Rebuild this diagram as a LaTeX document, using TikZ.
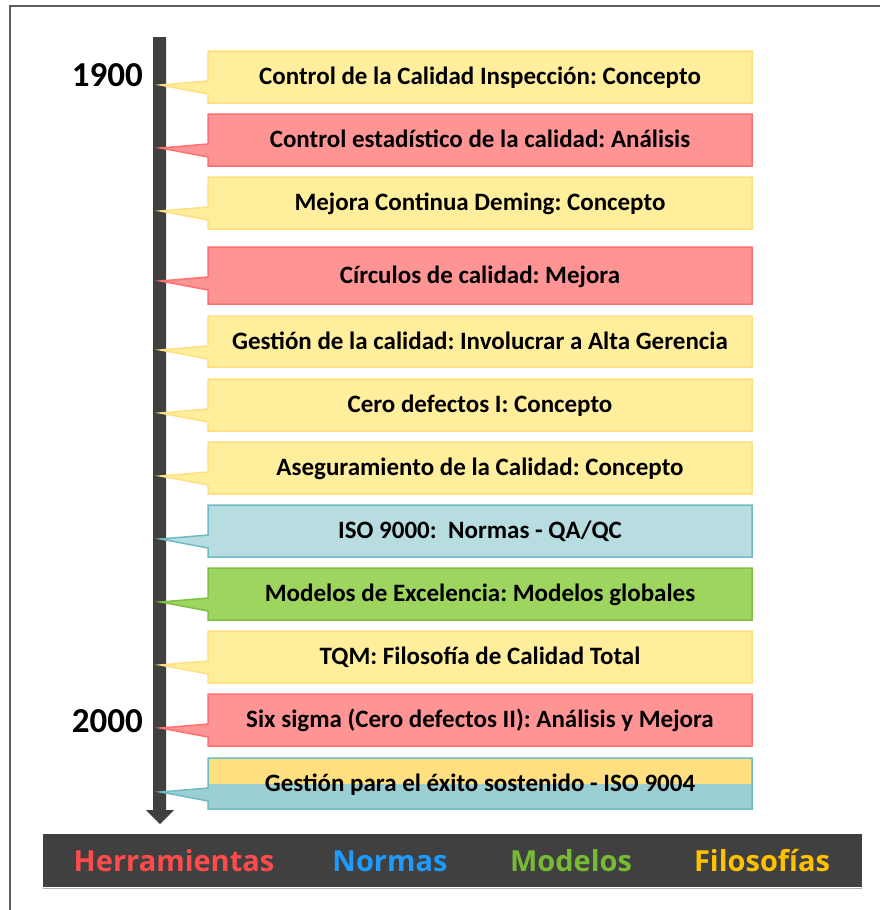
\documentclass[tikz,border=0pt]{standalone}
\usepackage{fontspec}
\setmainfont{Carlito}
\newfontfamily\legendfont{Open Sans}
\frenchspacing
\definecolor{barcol}{HTML}{404040}
\definecolor{yelfill}{HTML}{FFEE9C}
\definecolor{yeldraw}{HTML}{FFDF80}
\definecolor{redfill}{HTML}{FF9494}
\definecolor{reddraw}{HTML}{FF7070}
\definecolor{bluefill}{HTML}{B7DDE1}
\definecolor{bluedraw}{HTML}{6FBAC4}
\definecolor{grnfill}{HTML}{9ED55F}
\definecolor{grndraw}{HTML}{7DC043}
\definecolor{mixtop}{HTML}{FFDF80}
\definecolor{mixbot}{HTML}{9CCFD4}
\definecolor{legred}{HTML}{FF4B4B}
\definecolor{legblue}{HTML}{1E9BFF}
\definecolor{leggreen}{HTML}{77BB33}
\definecolor{legyellow}{HTML}{FFC000}

% one callout box on the time line: name, top, bottom, style, text
\newcommand{\tlbox}[5]{%
  \path[#4] (208,#2) -- (752,#2) -- (752,#3) -- (208,#3) -- (208,#2+43)
    -- (160.5,#2+34) -- (208,#2+30) -- cycle;
  \node[boxtext] (#1) at (480,{(#2+#3)/2+7.5}) {#5};
}

\begin{document}
\begin{tikzpicture}[x=1pt,y=-1pt,
  boxtext/.style={anchor=base,inner sep=0pt,font=\fontsize{25}{29}\selectfont\bfseries},
  philo/.style={fill=yelfill,draw=yeldraw,line width=1.5pt},
  tool/.style={fill=redfill,draw=reddraw,line width=1.5pt},
  norm/.style={fill=bluefill,draw=bluedraw,line width=1.5pt},
  model/.style={fill=grnfill,draw=grndraw,line width=1.5pt},
  year/.style={anchor=base east,inner sep=0pt,font=\fontsize{35}{40}\selectfont\bfseries},
  legend/.style={anchor=base,inner sep=0pt,font=\legendfont\fontsize{29}{34}\selectfont\bfseries}]
\useasboundingbox (0,0) rectangle (880,910);

% outer frame
\draw[barcol!85,line width=1.5pt] (10,915) -- (10,6) -- (885,6);

% time axis with arrow head
\fill[barcol] (153,37) -- (166,37) -- (166,810) -- (174,810) -- (160,824)
  -- (146,810) -- (153,810) -- cycle;

\node[year] (y1900) at (143,86) {1900};
\node[year] (y2000) at (143,732) {2000};

\tlbox{b1}{51}{103}{philo}{Control de la Calidad Inspección: Concepto}
\tlbox{b2}{114}{166}{tool}{Control estadístico de la calidad: Análisis}
\tlbox{b3}{177}{229}{philo}{Mejora Continua Deming: Concepto}
\tlbox{b4}{247}{304}{tool}{Círculos de calidad: Mejora}
\tlbox{b5}{316}{367}{philo}{Gestión de la calidad: Involucrar a Alta Gerencia}
\tlbox{b6}{379}{431}{philo}{Cero defectos I: Concepto}
\tlbox{b7}{442}{494}{philo}{Aseguramiento de la Calidad: Concepto}
\tlbox{b8}{505}{557}{norm}{ISO 9000:\ \ Normas - QA/QC}
\tlbox{b9}{568}{620}{model}{Modelos de Excelencia: Modelos globales}
\tlbox{b10}{631}{683}{philo}{TQM: Filosofía de Calidad Total}
\tlbox{b11}{694}{746}{tool}{Six sigma (Cero defectos II): Análisis y Mejora}

% last box: half philosophy, half standard
\fill[mixbot] (208,758) -- (752,758) -- (752,809) -- (208,809) -- (208,801)
  -- (160.5,792) -- (208,788) -- cycle;
\fill[mixtop] (208,758) rectangle (752,784);
\draw[bluedraw,line width=1.5pt] (208,758) -- (752,758) -- (752,809) -- (208,809)
  -- (208,801) -- (160.5,792) -- (208,788) -- cycle;
\node[boxtext] (b12) at (480,791) {Gestión para el éxito sostenido - ISO 9004};

% legend bar
\draw[gray!60,line width=1pt] (43,888) -- (862,888);
\fill[barcol] (43,834) rectangle (862,887);
\node[legend,text=legred] (lh) at (174,871) {Herramientas};
\node[legend,text=legblue] (ln) at (390,871) {Normas};
\node[legend,text=leggreen] (lm) at (571,871) {Modelos};
\node[legend,text=legyellow] (lf) at (762,871) {Filosofías};
\end{tikzpicture}
\end{document}
